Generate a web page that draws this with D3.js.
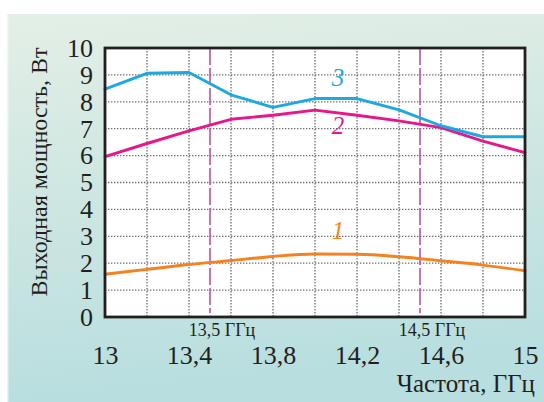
<!DOCTYPE html>
<html>
<head>
<meta charset="utf-8">
<script src="https://cdn.jsdelivr.net/npm/d3@7/dist/d3.min.js"></script>
<style>
  html, body { margin: 0; padding: 0; background: #ffffff; }
  svg { display: block; }
</style>
</head>
<body>
<script>
// Frequency grid (GHz) and output power (W) of three amplifier variants
const freq = [13.0, 13.2, 13.4, 13.6, 13.8, 14.0, 14.2, 14.4, 14.6, 14.8, 15.0];
const power1 = [1.59, 1.77, 1.95, 2.10, 2.25, 2.34, 2.33, 2.24, 2.09, 1.93, 1.72];
const power2 = [5.96, 6.45, 6.92, 7.35, 7.50, 7.69, 7.50, 7.29, 7.04, 6.54, 6.11];
const power3 = [8.47, 9.06, 9.09, 8.26, 7.79, 8.12, 8.12, 7.70, 7.11, 6.70, 6.70];

const xTicks = [13.0, 13.4, 13.8, 14.2, 14.6, 15.0];
const xGrid = [13.2, 13.4, 13.6, 13.8, 14.0, 14.2, 14.4, 14.6, 14.8];
const yTicks = [0, 1, 2, 3, 4, 5, 6, 7, 8, 9, 10];
const bandEdges = [13.5, 14.5];
const bandLabels = ["13,5 ГГц", "14,5 ГГц"];
const curveNames = ["1", "2", "3"];
const curveLabelPos = [[14.11, 2.9], [14.11, 6.8], [14.11, 8.6]];

const SERIF = "'Liberation Serif', 'Times New Roman', Tinos, serif";
const INK = "#231f20";

const W = 544, H = 402;
const plot = { left: 105, right: 525, top: 48, bottom: 317 };

const svg = d3.select("body").append("svg").attr("width", W).attr("height", H);

// Panel background
const defs = svg.append("defs");
const grad = defs.append("linearGradient").attr("id", "panelGrad")
  .attr("x1", "0").attr("y1", "0").attr("x2", "0.15").attr("y2", "1");
grad.append("stop").attr("offset", "0").attr("stop-color", "#e4efe6");
grad.append("stop").attr("offset", "0.45").attr("stop-color", "#cfe7e2");
grad.append("stop").attr("offset", "1").attr("stop-color", "#b8dedf");
svg.append("rect").attr("x", 7).attr("y", 14).attr("width", W - 7).attr("height", H - 14)
  .attr("fill", "url(#panelGrad)");
svg.append("rect").attr("x", 7).attr("y", 14).attr("width", 1.5).attr("height", H - 14)
  .attr("fill", "#f2f7f4").attr("opacity", 0.8);

const x = d3.scaleLinear().domain([13, 15]).range([plot.left, plot.right]);
const y = d3.scaleLinear().domain([0, 10]).range([plot.bottom, plot.top]);

// Plot area
svg.append("rect").attr("x", plot.left).attr("y", plot.top)
  .attr("width", plot.right - plot.left).attr("height", plot.bottom - plot.top)
  .attr("fill", "#ffffff");

// Dotted grid
const grid = svg.append("g").attr("stroke", "#6d6e71").attr("stroke-width", 1.3)
  .attr("stroke-dasharray", "1.4,1.6");
grid.selectAll("line.h").data(yTicks.slice(1, -1)).join("line")
  .attr("x1", plot.left).attr("x2", plot.right)
  .attr("y1", d => y(d)).attr("y2", d => y(d));
grid.selectAll("line.v").data(xGrid).join("line")
  .attr("y1", plot.top).attr("y2", plot.bottom)
  .attr("x1", d => x(d)).attr("x2", d => x(d));

// Band edges
svg.append("g").selectAll("line").data(bandEdges).join("line")
  .attr("x1", d => x(d)).attr("x2", d => x(d))
  .attr("y1", plot.top).attr("y2", plot.bottom - 4)
  .attr("stroke", "#c150a0").attr("stroke-width", 1.6)
  .attr("stroke-dasharray", "17,3");

// Curves
const series = [
  { values: power1, color: "#f58220", curve: d3.curveMonotoneX },
  { values: power2, color: "#e8168a", curve: d3.curveLinear },
  { values: power3, color: "#1ba9e1", curve: d3.curveLinear }
];
const line = d3.line().x(d => x(d[0])).y(d => y(d[1]));
svg.append("g").selectAll("path").data(series).join("path")
  .attr("d", s => line.curve(s.curve)(freq.map((f, i) => [f, s.values[i]])))
  .attr("fill", "none").attr("stroke", s => s.color).attr("stroke-width", 2.9)
  .attr("stroke-linejoin", "round").attr("stroke-linecap", "round");

// Curve numbers
svg.append("g").selectAll("text").data(curveNames).join("text")
  .attr("x", (d, i) => x(curveLabelPos[i][0]))
  .attr("y", (d, i) => y(curveLabelPos[i][1]))
  .attr("text-anchor", "middle")
  .style("font-family", SERIF)
  .style("font-style", "italic").style("font-size", "25px")
  .style("fill", (d, i) => series[i].color)
  .text(d => d);

// Frame
svg.append("rect").attr("x", plot.left).attr("y", plot.top)
  .attr("width", plot.right - plot.left).attr("height", plot.bottom - plot.top)
  .attr("fill", "none").attr("stroke", INK).attr("stroke-width", 2.8);

// Y axis
const yAxis = d3.axisLeft(y).tickValues(yTicks).tickSize(0).tickPadding(12)
  .tickFormat(d3.format("d"));
const gy = svg.append("g").attr("transform", `translate(${plot.left},0)`).call(yAxis);
gy.attr("font-family", null).attr("font-size", null);
gy.select(".domain").remove();
gy.selectAll("text").style("font-family", SERIF).style("font-size", "26px")
  .style("fill", INK).attr("dy", "0.32em").attr("x", -12);

// X axis
const fmtComma = d => (Number.isInteger(d) ? String(d) : d.toFixed(1).replace(".", ","));
const xAxis = d3.axisBottom(x).tickValues(xTicks).tickSize(0).tickPadding(0)
  .tickFormat(fmtComma);
const gx = svg.append("g").attr("transform", `translate(0,${plot.bottom})`).call(xAxis);
gx.attr("font-family", null).attr("font-size", null);
gx.select(".domain").remove();
gx.selectAll("text").style("font-family", SERIF).style("font-size", "26px")
  .style("fill", INK).attr("dy", null).attr("y", 47);

// Band labels
svg.append("g").selectAll("text").data(bandEdges).join("text")
  .attr("x", d => x(d) + 12).attr("y", 336)
  .attr("text-anchor", "middle")
  .style("font-family", SERIF).style("font-size", "18px").style("fill", INK)
  .text((d, i) => bandLabels[i]);

// Axis titles
svg.append("text").attr("x", 535).attr("y", 392).attr("text-anchor", "end")
  .style("font-family", SERIF).style("font-size", "25px").style("fill", INK)
  .text("Частота, ГГц");
svg.append("text").attr("transform", "translate(47,172) rotate(-90)")
  .attr("text-anchor", "middle")
  .style("font-family", SERIF).style("font-size", "24px").style("fill", INK)
  .text("Выходная мощность, Вт");
</script>
</body>
</html>
